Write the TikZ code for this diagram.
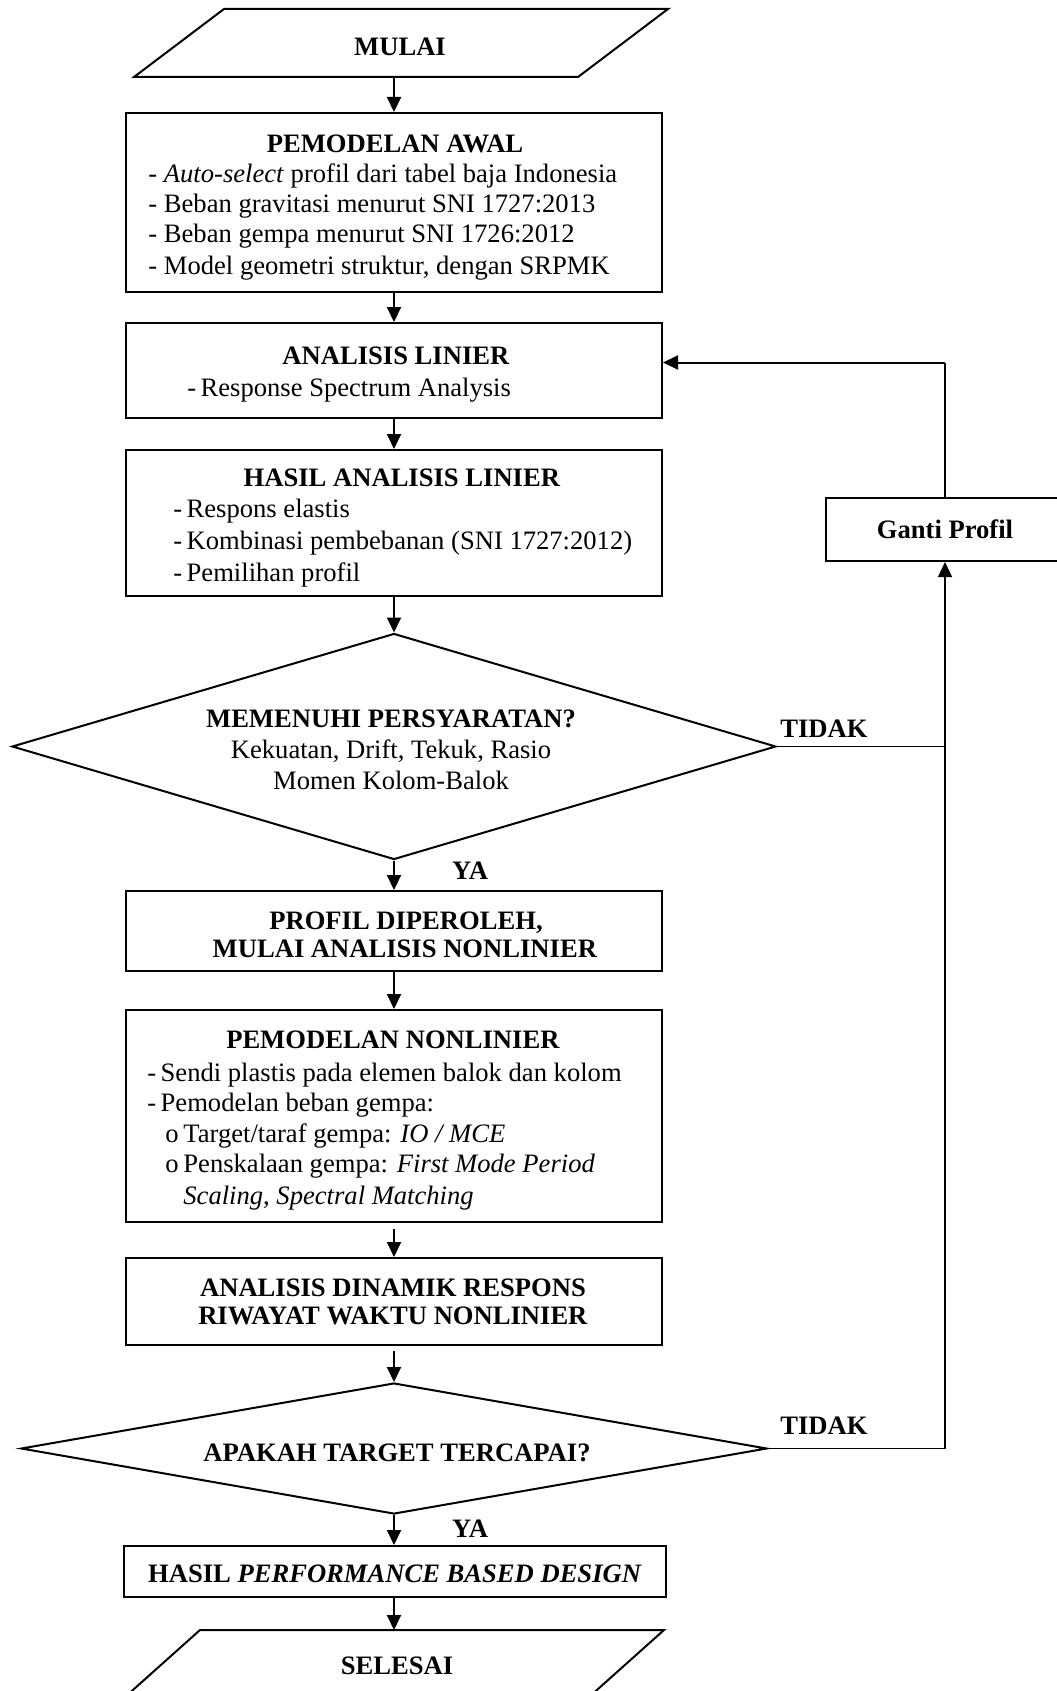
\documentclass[tikz,border=0pt]{standalone}
\usepackage{fontspec}
\setmainfont{Liberation Serif}
\usetikzlibrary{shapes.geometric,arrows.meta}
\begin{document}
\begin{tikzpicture}[x=0.5pt,y=-0.5pt,
  every node/.style={font=\fontsize{13.3}{15.3}\selectfont},
  box/.style={draw, line width=1pt, inner sep=0pt, minimum width=268pt},
  dia/.style={draw, diamond, line width=1pt, inner sep=0pt},
  txt/.style={inner sep=0pt, anchor=base},
  ltxt/.style={inner sep=0pt, anchor=base west},
  arr/.style={line width=1pt, -{Triangle[length=7.5pt,width=7pt]}},
  fline/.style={line width=0.6pt},
  farr/.style={line width=0.6pt, -{Triangle[length=7.5pt,width=7pt]}}]
\useasboundingbox (0,0) rectangle (1056,1691);

% terminators (parallelograms)
\draw[line width=1pt] (224,9) -- (668,9) -- (578,77) -- (134,77) -- cycle;
\draw[line width=1pt] (200,1630) -- (664,1630) -- (579,1706) -- (115,1706) -- cycle;

% process boxes
\node[box, minimum height=89.5pt] (awal) at (394,202.5) {};
\node[box, minimum height=47.5pt] (lin) at (394,370.5) {};
\node[box, minimum height=73pt] (hasil) at (394,523) {};
\node[dia, minimum width=382pt, minimum height=113pt] (d1) at (394,746.5) {};
\node[box, minimum height=40pt] (profil) at (394,931) {};
\node[box, minimum height=106pt] (nonlin) at (394,1116) {};
\node[box, minimum height=43.5pt] (dinamik) at (394,1301.5) {};
\node[dia, minimum width=373pt, minimum height=65.5pt] (d2) at (394,1448.5) {};
\node[box, minimum width=271pt, minimum height=25.5pt] (pbd) at (395,1571.5) {};
\node[box, minimum width=119pt, minimum height=31.5pt] (gp) at (945,529.5) {\textbf{Ganti Profil}};

\coordinate (mulaiB) at (394,77);
\coordinate (selT) at (394,1630);

% texts
\node[txt] (tmulai) at (400,56) {\textbf{MULAI}};
\node[txt] (t1) at (395,152) {\textbf{PEMODELAN AWAL}};
\node[ltxt] (t1a) at (148,182) {- \textit{Auto-select} profil dari tabel baja Indonesia};
\node[ltxt] (t1b) at (148,212) {- Beban gravitasi menurut SNI 1727:2013};
\node[ltxt] (t1c) at (148,242) {- Beban gempa menurut SNI 1726:2012};
\node[ltxt] (t1d) at (148,274) {- Model geometri struktur, dengan SRPMK};
\node[txt] (t2) at (396,364) {\textbf{ANALISIS LINIER}};
\node[ltxt] (t2a) at (187,396) {-\,Response Spectrum Analysis};
\node[txt] (t3) at (402,486) {\textbf{HASIL ANALISIS LINIER}};
\node[ltxt] (t3a) at (173,517) {-\,Respons elastis};
\node[ltxt] (t3b) at (173,549) {-\,Kombinasi pembebanan (SNI 1727:2012)};
\node[ltxt] (t3c) at (173,581) {-\,Pemilihan profil};
\node[txt] (t4) at (391,727) {\textbf{MEMENUHI PERSYARATAN?}};
\node[txt] (t4a) at (391,758) {Kekuatan, Drift, Tekuk, Rasio};
\node[txt] (t4b) at (391,789) {Momen Kolom-Balok};
\node[txt] (tidak1) at (824,737) {\textbf{TIDAK}};
\node[txt] (ya1) at (470,879) {\textbf{YA}};
\node[txt] (t5) at (406,929) {\textbf{PROFIL DIPEROLEH,}};
\node[txt] (t5b) at (405,957) {\textbf{MULAI ANALISIS NONLINIER}};
\node[txt] (t6) at (393,1048) {\textbf{PEMODELAN NONLINIER}};
\node[ltxt] (t6a) at (147,1081) {-\,Sendi plastis pada elemen balok dan kolom};
\node[ltxt] (t6b) at (147,1111) {-\,Pemodelan beban gempa:};
\node[ltxt] (t6c) at (165,1142) {o};
\node[ltxt] (t6d) at (183,1142) {Target/taraf gempa: \textit{IO / MCE}};
\node[ltxt] (t6e) at (165,1172) {o};
\node[ltxt] (t6f) at (183,1172) {Penskalaan gempa: \textit{First Mode Period}};
\node[ltxt] (t6g) at (183,1204) {\textit{Scaling}, \textit{Spectral Matching}};
\node[txt] (t7) at (393,1296) {\textbf{ANALISIS DINAMIK RESPONS}};
\node[txt] (t7b) at (393,1324) {\textbf{RIWAYAT WAKTU NONLINIER}};
\node[txt] (t8) at (397,1461) {\textbf{APAKAH TARGET TERCAPAI?}};
\node[txt] (tidak2) at (824,1434) {\textbf{TIDAK}};
\node[txt] (ya2) at (470,1537) {\textbf{YA}};
\node[txt] (t9) at (395,1582) {\textbf{HASIL \textit{PERFORMANCE BASED DESIGN}}};
\node[txt] (t10) at (397,1674) {\textbf{SELESAI}};

% main flow
\draw[arr] (mulaiB) -- (awal.north);
\draw[arr] (awal.south) -- (lin.north);
\draw[arr] (lin.south) -- (hasil.north);
\draw[arr] (hasil.south) -- (d1.north);
\draw[arr] (d1.south) -- (profil.north);
\draw[arr] (profil.south) -- (nonlin.north);
\draw[arr, shorten <=3pt] (nonlin.south) -- (dinamik.north);
\draw[arr, shorten <=2.5pt] (dinamik.south) -- (d2.north);
\draw[arr] (d2.south) -- (d2.south |- pbd.north);
\draw[arr] (pbd.south -| selT) -- (selT);

% feedback
\coordinate (fbL) at ([yshift=4pt]lin.east);
\coordinate (fbR) at (gp.north |- fbL);
\draw[fline] (d1.east) -- (d1.east -| gp.south);
\draw[farr] (d2.east) -- (d2.east -| gp.south) -- (gp.south);
\draw[fline] (gp.north) -- (fbR);
\draw[arr] (fbR) -- (fbL);
\end{tikzpicture}
\end{document}
